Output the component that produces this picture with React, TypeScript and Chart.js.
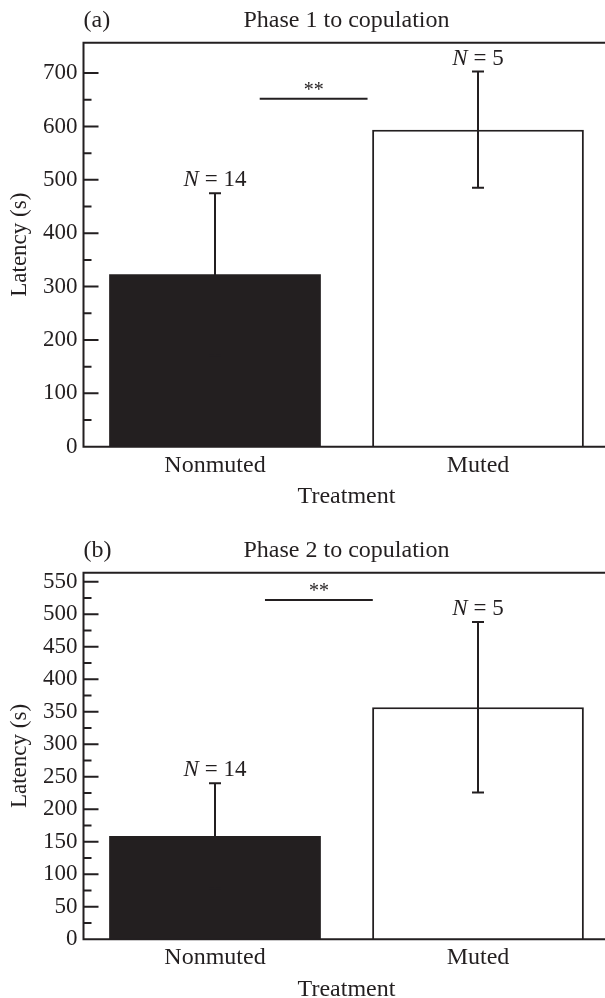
import React, { useEffect, useRef } from 'react';
import { Chart, registerables } from 'chart.js';

Chart.register(...registerables);

// ---- Data ----
const categories = ['Nonmuted', 'Muted'];

const meansA = [323, 594];
const errorsA = [152, 109];
const sampleSizesA = [14, 5];
const sigA = [0.17, 0.58, 652]; // from category index, to category index, latency value
const yMaxA = 757;
const yStepA = 50;
const yLabelStepA = 100;

const meansB = [159, 357];
const errorsB = [81, 131];
const sampleSizesB = [14, 5];
const sigB = [0.19, 0.6, 522];
const yMaxB = 564;
const yStepB = 25;
const yLabelStepB = 50;

const INK = '#231f20';
const FONT = "'Liberation Serif', 'Times New Roman', serif";
const CANVAS_W = 620;

type PanelProps = {
  top: number;
  height: number;
  areaTop: number;
  areaBottom: number;
  letter: string;
  title: string;
  means: number[];
  errors: number[];
  ns: number[];
  sig: number[];
  yMax: number;
  step: number;
  labelStep: number;
};

function Panel(p: PanelProps) {
  const ref = useRef<HTMLCanvasElement | null>(null);

  useEffect(() => {
    if (!ref.current) return;
    const overlay = {
      id: 'overlay',
      afterDraw(chart: any) {
        const ctx = chart.ctx as CanvasRenderingContext2D;
        const { left, right, top, bottom } = chart.chartArea;
        const xs = chart.scales.x;
        const ys = chart.scales.y;
        ctx.save();
        ctx.strokeStyle = INK;
        ctx.fillStyle = INK;
        ctx.lineWidth = 2;
        ctx.lineCap = 'butt';

        // frame
        ctx.beginPath();
        ctx.moveTo(left, top);
        ctx.lineTo(right + 20, top);
        ctx.moveTo(left, top - 1);
        ctx.lineTo(left, bottom + 1);
        ctx.moveTo(left - 1, bottom);
        ctx.lineTo(right + 20, bottom);
        ctx.stroke();

        // inward ticks
        ctx.beginPath();
        for (const t of ys.ticks) {
          if (t.value % p.step !== 0 || t.value === 0) continue;
          const py = ys.getPixelForValue(t.value);
          if (py - top < 6) continue;
          const len = t.value % p.labelStep === 0 ? 15 : 8;
          ctx.moveTo(left, py);
          ctx.lineTo(left + len, py);
        }
        ctx.stroke();

        // error bars
        ctx.lineWidth = 2;
        p.means.forEach((m, i) => {
          const x = xs.getPixelForValue(i);
          const yHi = ys.getPixelForValue(m + p.errors[i]);
          const yLo = ys.getPixelForValue(m - p.errors[i]);
          ctx.beginPath();
          ctx.moveTo(x, yLo);
          ctx.lineTo(x, yHi);
          ctx.moveTo(x - 6, yHi);
          ctx.lineTo(x + 6, yHi);
          ctx.moveTo(x - 6, yLo);
          ctx.lineTo(x + 6, yLo);
          ctx.stroke();

          // N labels
          const italic = `italic 23px ${FONT}`;
          const roman = `23px ${FONT}`;
          const rest = ` = ${p.ns[i]}`;
          ctx.font = italic;
          const w1 = ctx.measureText('N').width;
          ctx.font = roman;
          const w2 = ctx.measureText(rest).width;
          const sx = x - (w1 + w2) / 2;
          const by = yHi - 7;
          ctx.textAlign = 'left';
          ctx.textBaseline = 'alphabetic';
          ctx.font = italic;
          ctx.fillText('N', sx, by);
          ctx.font = roman;
          ctx.fillText(rest, sx + w1, by);
        });

        // significance line
        const x1 = xs.getPixelForValue(p.sig[0]);
        const x2 = xs.getPixelForValue(p.sig[1]);
        const sy = ys.getPixelForValue(p.sig[2]);
        ctx.lineWidth = 2;
        ctx.beginPath();
        ctx.moveTo(x1, sy);
        ctx.lineTo(x2, sy);
        ctx.stroke();
        ctx.font = `20px ${FONT}`;
        ctx.textAlign = 'center';
        ctx.textBaseline = 'alphabetic';
        ctx.fillText('**', (x1 + x2) / 2, sy - 3);

        // category labels
        ctx.font = `24px ${FONT}`;
        categories.forEach((c, i) => {
          ctx.fillText(c, xs.getPixelForValue(i), bottom + 25);
        });
        const cx = (left + right) / 2;
        ctx.fillText('Treatment', cx, bottom + 56.5);

        // titles
        ctx.fillText(p.title, cx, top - 16);
        ctx.textAlign = 'left';
        ctx.fillText(p.letter, left, top - 16);

        // y title
        ctx.save();
        ctx.translate(20, (top + bottom) / 2);
        ctx.rotate(-Math.PI / 2);
        ctx.textAlign = 'center';
        ctx.textBaseline = 'middle';
        ctx.font = `23px ${FONT}`;
        ctx.fillText('Latency (s)', 0, 0);
        ctx.restore();

        ctx.restore();
      },
    };

    const chart = new Chart(ref.current, {
      type: 'bar',
      data: {
        labels: categories,
        datasets: [
          {
            data: p.means,
            backgroundColor: [INK, '#ffffff'],
            borderColor: INK,
            borderWidth: [0, 2] as any,
            barPercentage: 0.805,
            categoryPercentage: 1,
          },
        ],
      },
      options: {
        responsive: false,
        animation: false,
        layout: { padding: { left: 0, top: p.areaTop, right: CANVAS_W - 609.5, bottom: 0 } },
        plugins: { legend: { display: false }, tooltip: { enabled: false }, title: { display: false } },
        scales: {
          x: {
            type: 'category',
            offset: true,
            grid: { display: false, drawTicks: false },
            border: { display: false },
            ticks: { display: false },
            afterFit: (s: any) => {
              s.height = p.height - p.areaBottom;
            },
          },
          y: {
            min: 0,
            max: p.yMax,
            grid: { display: false, drawTicks: false },
            border: { display: false },
            ticks: {
              stepSize: p.step,
              includeBounds: false,
              autoSkip: false,
              padding: 6,
              color: INK,
              font: { family: FONT, size: 23 },
              callback: (v: any) => (Number(v) % p.labelStep === 0 ? String(v) : ''),
            },
            afterFit: (s: any) => {
              s.width = 83.5;
            },
          },
        },
      },
      plugins: [overlay],
    });
    return () => chart.destroy();
  }, []);

  return (
    <canvas
      ref={ref}
      width={CANVAS_W}
      height={p.height}
      style={{ position: 'absolute', left: 0, top: p.top, width: CANVAS_W, height: p.height }}
    />
  );
}

export default function App() {
  return (
    <div
      style={{
        position: 'fixed',
        left: 0,
        top: 0,
        width: 605,
        height: 998,
        overflow: 'hidden',
        background: '#ffffff',
      }}
    >
      <Panel
        top={0}
        height={515}
        areaTop={42.7}
        areaBottom={446.7}
        letter="(a)"
        title="Phase 1 to copulation"
        means={meansA}
        errors={errorsA}
        ns={sampleSizesA}
        sig={sigA}
        yMax={yMaxA}
        step={yStepA}
        labelStep={yLabelStepA}
      />
      <Panel
        top={520}
        height={478}
        areaTop={52.7}
        areaBottom={419.3}
        letter="(b)"
        title="Phase 2 to copulation"
        means={meansB}
        errors={errorsB}
        ns={sampleSizesB}
        sig={sigB}
        yMax={yMaxB}
        step={yStepB}
        labelStep={yLabelStepB}
      />
    </div>
  );
}
